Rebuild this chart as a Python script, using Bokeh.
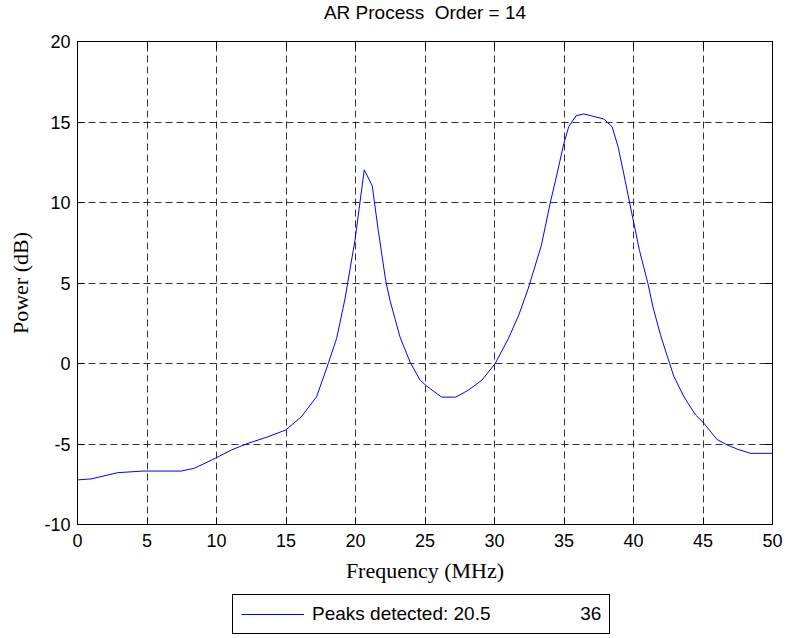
from bokeh.plotting import figure
from bokeh.layouts import column
from bokeh.models import (Legend, LegendItem, LinearAxis, FixedTicker, Range1d,
                          CustomJSTickFormatter, Label)
from bokeh.embed import file_html
from bokeh.resources import INLINE

# ---- data ----
freq = [0.0, 0.97, 2.9, 4.7, 7.46, 8.4, 9.91, 11.07, 12.27, 13.71, 14.98, 16.1,
        17.2, 18.04, 18.64, 19.24, 19.96, 20.63, 21.2, 21.64, 22.17, 22.48, 22.84,
        23.2, 23.92, 24.64, 25.13, 26.2, 27.2, 28.13, 29.1, 30.05, 31.0, 31.74,
        32.4, 33.37, 34.02, 34.5, 34.98, 35.34, 35.87, 36.42, 37.86, 38.46, 38.9,
        39.3, 39.86, 40.43, 41.04, 41.4, 41.95, 42.6, 42.9, 43.63, 44.47, 45.0,
        46.0, 46.6, 47.5, 48.43, 50.0]
power = [-7.23, -7.17, -6.78, -6.68, -6.68, -6.51, -5.89, -5.37, -4.96, -4.55, -4.13, -3.31,
         -2.07, 0.0, 1.55, 4.0, 7.64, 12.03, 11.05, 8.26, 5.16, 3.92, 2.79,
         1.65, 0.1, -1.03, -1.41, -2.09, -2.09, -1.65, -1.03, 0.0, 1.55, 3.0,
         4.59, 7.33, 10.02, 11.78, 13.64, 14.71, 15.39, 15.5, 15.19, 14.71, 13.43,
         11.78, 9.4, 7.02, 4.96, 3.51, 1.75, 0.0, -0.79, -2.07, -3.2, -3.65,
         -4.71, -5.0, -5.33, -5.58, -5.58]
x_ticks = [0, 5, 10, 15, 20, 25, 30, 35, 40, 45, 50]
y_ticks = [-10, -5, 0, 5, 10, 15, 20]
y_tick_labels = {t: str(t) for t in y_ticks}
title_text = "AR Process\u00a0 Order = 14"
x_label = "Frequency (MHz)"
y_label = "Power (dB)"
peaks = ["20.5", "36"]
legend_label = "Peaks detected: " + peaks[0] + "\u00a0" * 17 + peaks[1]

SANS = "Liberation Sans"
SERIF = "Liberation Serif"
BORDER_L, BORDER_R = 77, 13


def strip(height):
    f = figure(width=785, height=height, x_range=Range1d(0, 1), y_range=Range1d(0, 1),
               output_backend="svg", toolbar_location=None, title=None,
               x_axis_location=None, y_axis_location=None,
               min_border_left=BORDER_L, min_border_right=BORDER_R,
               min_border_top=0, min_border_bottom=0)
    f.outline_line_color = None
    f.grid.visible = False
    f.background_fill_color = "white"
    f.border_fill_color = "white"
    return f


# ---- title strip ----
p0 = strip(25)
p0.add_layout(Label(x=347.5, y=13, x_units="screen", y_units="screen", text=title_text,
                    text_align="center", text_baseline="middle", text_font=SANS,
                    text_font_size="19px", text_color="black"))

# ---- main plot ----
p = figure(width=785, height=569, x_range=Range1d(0, 50), y_range=Range1d(-10, 20),
           output_backend="svg", toolbar_location=None, title=None,
           min_border_left=BORDER_L, min_border_right=BORDER_R, min_border_top=16,
           min_border_bottom=70, x_axis_label=x_label, y_axis_label=y_label)
p.background_fill_color = "white"
p.border_fill_color = "white"
p.outline_line_color = "black"
p.outline_line_alpha = 1.0
p.outline_line_width = 1

line = p.line(freq, power, line_color="#0000ff", line_width=1)

for ax, ticks in ((p.xaxis[0], x_ticks), (p.yaxis[0], y_ticks)):
    ax.ticker = FixedTicker(ticks=ticks)
    ax.major_tick_in = 7
    ax.major_tick_out = 0
    ax.minor_tick_line_color = None
    ax.axis_line_color = "black"
    ax.major_tick_line_color = "black"
    ax.major_label_text_font = SANS
    ax.major_label_text_font_size = "18px"
    ax.major_label_text_color = "black"
    ax.axis_label_text_font = SERIF
    ax.axis_label_text_font_size = "22px"
    ax.axis_label_text_font_style = "normal"
    ax.axis_label_text_color = "black"

p.yaxis[0].major_label_overrides = y_tick_labels
p.xaxis[0].major_label_standoff = 9
p.xaxis[0].axis_label_standoff = 8
p.yaxis[0].major_label_standoff = 7
p.yaxis[0].axis_label_standoff = 8

for loc, ticks in (("above", x_ticks), ("right", y_ticks)):
    ax = LinearAxis(ticker=FixedTicker(ticks=ticks),
                    formatter=CustomJSTickFormatter(code="return ''"),
                    major_tick_in=7, major_tick_out=0, major_label_standoff=0,
                    minor_tick_line_color=None, axis_line_color="black",
                    major_tick_line_color="black")
    p.add_layout(ax, loc)

for g, ticks in ((p.xgrid[0], x_ticks), (p.ygrid[0], y_ticks)):
    g.ticker = FixedTicker(ticks=ticks)
    g.grid_line_color = "black"
    g.grid_line_alpha = 0.8
    g.grid_line_dash = "7 4"
    g.grid_line_width = 1

# ---- legend strip under the plot ----
p2 = strip(44)
key = p2.line(x=[freq[0]], y=[power[0]], line_color="#0000ff", line_width=1)

legend = Legend(items=[LegendItem(label=legend_label, renderers=[key])],
                location=(155, 4), orientation="horizontal")
legend.label_text_font = SANS
legend.label_text_font_size = "19px"
legend.label_text_color = "black"
legend.glyph_width = 63
legend.label_standoff = 8
legend.padding = 8
legend.margin = 0
legend.border_line_color = "black"
legend.border_line_alpha = 1.0
legend.background_fill_color = "white"
legend.background_fill_alpha = 1.0
p2.add_layout(legend, "center")

layout = column(p0, p, p2, spacing=0)
open("out.html", "w").write(file_html(layout, INLINE))
